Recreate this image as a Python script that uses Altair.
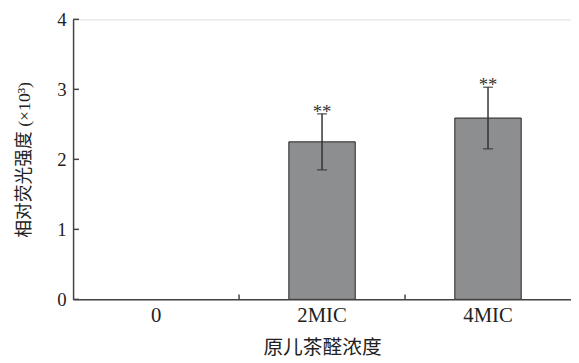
import altair as alt
import pandas as pd

categories = ["0", "2MIC", "4MIC"]
means = [0.0, 2.25, 2.59]
errors = [0.0, 0.40, 0.44]
stars = ["", "**", "**"]
y_ticks = [0, 1, 2, 3, 4]

df = pd.DataFrame({
    "cat": categories,
    "mean": means,
    "lo": [m - e for m, e in zip(means, errors)],
    "hi": [m + e for m, e in zip(means, errors)],
    "star": stars,
})
df_err = df[df["star"] != ""]
df_ticks = pd.DataFrame({"v": y_ticks})
df_xt = pd.DataFrame({"cat": categories[1:]})

FONT = "Liberation Serif, Noto Sans CJK SC"
W, H = 505, 284
AX = "#444444"

xscale = alt.Scale(domain=categories, paddingInner=0.6, paddingOuter=0.3)
yscale = alt.Scale(domain=[0, 4], nice=False)

x = alt.X("cat:N", scale=xscale, sort=categories,
          axis=alt.Axis(title="原儿茶醛浓度", labelAngle=0, tickSize=0,
                        labelPadding=5, titlePadding=13, domainColor=AX,
                        domainWidth=1.5, labelFont=FONT, titleFont=FONT,
                        labelFontSize=21, titleFontSize=20, labelColor="#222",
                        titleColor="#222", titleFontWeight="normal", zindex=1))
y = alt.Y("mean:Q", scale=yscale,
          axis=alt.Axis(title="相对荧光强度 (×10³)", values=y_ticks, tickSize=0,
                        labelPadding=7, titlePadding=24, domainColor=AX,
                        domainWidth=1.5, labelFont=FONT, titleFont=FONT,
                        labelFontSize=19, titleFontSize=18, labelColor="#222",
                        titleColor="#222", titleFontWeight="normal", grid=False,
                        format="d", zindex=1))

bars = alt.Chart(df).transform_filter("datum.mean > 0").mark_bar(
    color="#8d8e90", stroke="#222", strokeWidth=1).encode(x=x, y=y)

rule = alt.Chart(df_err).mark_rule(color="#333", strokeWidth=1.5).encode(
    x=alt.X("cat:N", scale=xscale, sort=categories),
    y=alt.Y("lo:Q", scale=yscale), y2="hi:Q")
cap_hi = alt.Chart(df_err).mark_tick(color="#333", thickness=1.5, size=10, orient="horizontal").encode(
    x=alt.X("cat:N", scale=xscale, sort=categories), y=alt.Y("hi:Q", scale=yscale))
cap_lo = alt.Chart(df_err).mark_tick(color="#333", thickness=1.5, size=10, orient="horizontal").encode(
    x=alt.X("cat:N", scale=xscale, sort=categories), y=alt.Y("lo:Q", scale=yscale))
txt = alt.Chart(df_err).mark_text(font=FONT, fontSize=19, color="#333", dy=4, baseline="alphabetic").encode(
    x=alt.X("cat:N", scale=xscale, sort=categories), y=alt.Y("hi:Q", scale=yscale), text="star:N")

yt = alt.Chart(df_ticks).mark_rule(color=AX, strokeWidth=1.5).encode(
    y=alt.Y("v:Q", scale=yscale), x=alt.value(0), x2=alt.value(6))
xt = alt.Chart(df_xt).mark_rule(color=AX, strokeWidth=1.5, xOffset=-0.3 * W / 3).encode(
    x=alt.X("cat:N", scale=xscale, sort=categories, bandPosition=0),
    y=alt.value(H), y2=alt.value(H - 5))

chart = alt.layer(bars, rule, cap_hi, cap_lo, txt, yt, xt).properties(
    width=W, height=H, padding={"left": 7, "top": 0, "right": 0, "bottom": 0}
).configure_view(stroke=None).configure(background="white")

chart.save("out.html", embed_options={"renderer": "svg", "actions": False})
